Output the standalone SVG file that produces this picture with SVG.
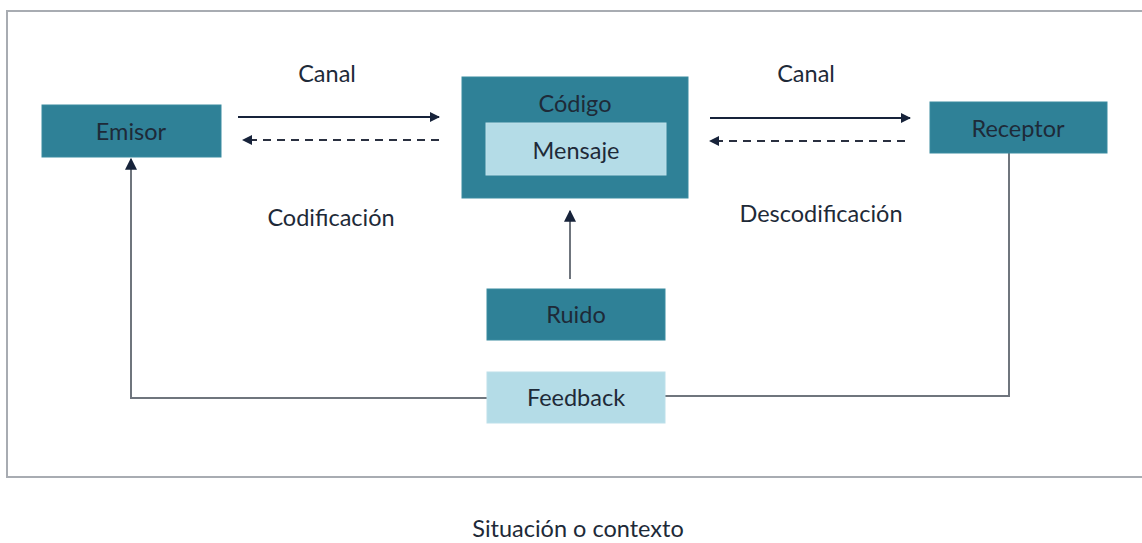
<svg xmlns="http://www.w3.org/2000/svg" width="1142" height="543" viewBox="0 0 1142 543">
<style>
text{font-family:Lato,"Open Sans","Liberation Sans",sans-serif;font-size:23.5px;fill:#1e2a38;text-anchor:middle;dominant-baseline:central}
.dark{fill:#2f8197;stroke:#3a8ba0;stroke-width:1}
.light{fill:#b4dce7;stroke:#bde0ea;stroke-width:1}
.fb{fill:none;stroke:#6f757d;stroke-width:2}
.ar{fill:none;stroke:#17233a;stroke-width:2}
.ds{fill:none;stroke:#2a3040;stroke-width:2;stroke-dasharray:8 6}
</style>
<defs>
<marker id="ah" viewBox="0 0 10 10" refX="9" refY="5" markerWidth="10" markerHeight="10" markerUnits="userSpaceOnUse" orient="auto"><path d="M0,0 L10,5 L0,10 Z" fill="#17233a"/></marker>
<marker id="ah2" viewBox="0 0 10 10" refX="9" refY="5" markerWidth="12" markerHeight="12" markerUnits="userSpaceOnUse" orient="auto"><path d="M0,0 L10,5 L0,10 Z" fill="#17233a"/></marker>
</defs>
<rect x="7" y="11" width="1140" height="466" fill="#fff" stroke="#a8acb2" stroke-width="2"/>
<g id="connectors">
<line class="ar" x1="238" y1="117" x2="439" y2="117" marker-end="url(#ah)"/>
<line class="ds" x1="439" y1="140" x2="243" y2="140" marker-end="url(#ah)"/>
<line class="ar" x1="710" y1="118" x2="910" y2="118" marker-end="url(#ah)"/>
<line class="ds" x1="905" y1="141" x2="710" y2="141" marker-end="url(#ah)"/>
<line class="fb" x1="570" y1="279" x2="570" y2="211" marker-end="url(#ah2)"/>
<polyline class="fb" points="487,398 131,398 131,159" marker-end="url(#ah2)"/>
<polyline class="fb" points="1009,153 1009,396 665,396"/>
</g>
<g id="emisor"><rect class="dark" x="42" y="105" width="179" height="52"/><text x="131" y="131">Emisor</text></g>
<g id="codigo"><rect class="dark" x="462" y="77" width="226" height="121"/><text x="575" y="103">Código</text></g>
<g id="mensaje"><rect class="light" x="486" y="123" width="180" height="52"/><text x="576" y="150">Mensaje</text></g>
<g id="receptor"><rect class="dark" x="930" y="102" width="177" height="51"/><text x="1018" y="128">Receptor</text></g>
<g id="ruido"><rect class="dark" x="487" y="289" width="178" height="51"/><text x="576" y="314">Ruido</text></g>
<g id="feedback"><rect class="light" x="487" y="372" width="178" height="51"/><text x="576" y="397">Feedback</text></g>
<g id="labels">
<text x="327" y="73">Canal</text>
<text x="806" y="73">Canal</text>
<text x="331" y="217">Codificación</text>
<text x="821" y="213">Descodificación</text>
<text x="578" y="528">Situación o contexto</text>
</g>
</svg>
